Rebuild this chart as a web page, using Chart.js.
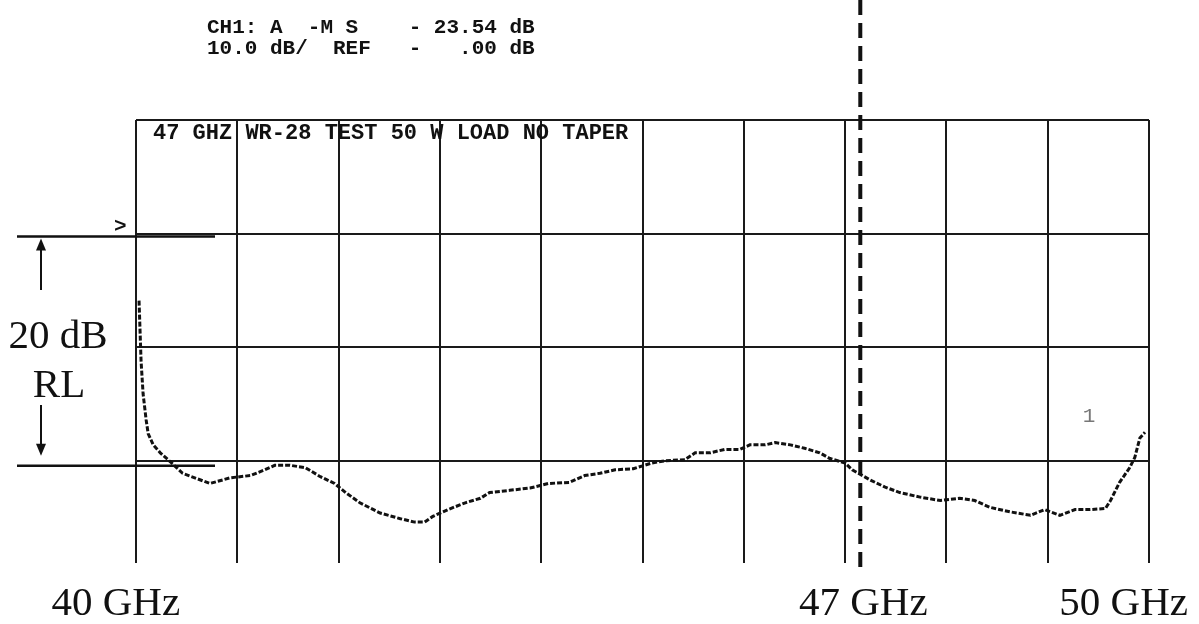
<!DOCTYPE html>
<html>
<head>
<meta charset="utf-8">
<script src="https://cdn.jsdelivr.net/npm/chart.js@4"></script>
<style>
  body { margin: 0; background: #fff; }
</style>
</head>
<body>
<canvas id="myChart" width="1199" height="624"></canvas>
<script>
// trace (frequency in GHz, return loss in dB)
const freqGHz = [40.03, 40.05, 40.07, 40.10, 40.12, 40.17, 40.24, 40.34, 40.46, 40.58, 40.73,
  40.93, 41.13, 41.27, 41.37, 41.52, 41.67, 41.82, 41.96,
  42.07, 42.21, 42.41, 42.61, 42.75, 42.85, 42.93,
  43.08, 43.25, 43.40, 43.49, 43.69, 43.89,
  44.07, 44.28, 44.43, 44.58, 44.73, 44.91,
  45.09, 45.22, 45.42, 45.52, 45.67, 45.81, 45.96,
  46.06, 46.21, 46.31, 46.46, 46.60, 46.75, 46.85,
  47.00, 47.07, 47.13, 47.25, 47.39, 47.54, 47.74, 47.94,
  48.13, 48.28, 48.43, 48.63, 48.83, 48.97,
  49.12, 49.27, 49.42, 49.57, 49.62, 49.71, 49.81, 49.86, 49.91, 49.96];
const rlDb = [-5.9, -11.2, -14.1, -16.4, -17.6, -18.6, -19.3, -20.1, -21.1, -21.5, -22.0,
  -21.5, -21.3, -20.8, -20.4, -20.4, -20.6, -21.4, -22.0,
  -22.8, -23.7, -24.6, -25.1, -25.4, -25.4, -24.9,
  -24.3, -23.7, -23.3, -22.8, -22.6, -22.4,
  -22.0, -21.9, -21.3, -21.1, -20.8, -20.7,
  -20.2, -20.0, -19.9, -19.3, -19.3, -19.0, -19.0,
  -18.6, -18.6, -18.4, -18.6, -18.9, -19.3, -19.8,
  -20.2, -20.8, -21.1, -21.7, -22.3, -22.8, -23.2, -23.5,
  -23.3, -23.5, -24.1, -24.5, -24.8, -24.3,
  -24.8, -24.3, -24.3, -24.2, -23.5, -21.9, -20.6, -19.7, -18.0, -17.5];

// grid / labels
const dbGrid = [-20, -10, 0, 10];
const freqLabels = ['40 GHz', '47 GHz', '50 GHz'];
const freqLabelAt = [39.8, 47.18, 49.75];
const markerGHz = 47.15;
const rlSpan = [0, -20];
const headerLines = ['CH1: A  -M S    - 23.54 dB', '10.0 dB/  REF   -   .00 dB'];
const plotTitle = '47 GHZ WR-28 TEST 50 W LOAD NO TAPER';

function arrowHead(ctx, x, y, dir) {
  ctx.beginPath();
  ctx.moveTo(x, y);
  ctx.lineTo(x - 5, y - dir * 12);
  ctx.lineTo(x + 5, y - dir * 12);
  ctx.closePath();
  ctx.fill();
}

const overlay = {
  id: 'overlay',
  afterDraw(chart) {
    const ctx = chart.ctx;
    const xs = chart.scales.x, ys = chart.scales.y;
    ctx.save();
    ctx.fillStyle = '#111';
    ctx.strokeStyle = '#111';

    // analyzer header + plot title
    ctx.textAlign = 'left';
    ctx.font = 'bold 21px "Liberation Mono"';
    ctx.fillText(headerLines[0], 207, 33);
    ctx.fillText(headerLines[1], 207, 54);
    ctx.font = 'bold 22px "Liberation Mono"';
    ctx.fillText(plotTitle, 153, 139);
    ctx.font = 'bold 21px "Liberation Mono"';
    ctx.fillText('>', 114, 232);

    ctx.fillStyle = '#777';
    ctx.font = '21px "Liberation Mono"';
    ctx.textAlign = 'center';
    ctx.fillText('1', 1089, 422);
    ctx.fillStyle = '#111';

    // 20 dB RL bracket
    const yTop = ys.getPixelForValue(rlSpan[0]) + 3;
    const yBot = ys.getPixelForValue(rlSpan[1]) + 5;
    ctx.lineWidth = 2.5;
    ctx.beginPath();
    ctx.moveTo(17, yTop); ctx.lineTo(215, yTop);
    ctx.moveTo(17, yBot); ctx.lineTo(215, yBot);
    ctx.stroke();
    ctx.lineWidth = 2;
    ctx.beginPath();
    ctx.moveTo(41, yTop + 12); ctx.lineTo(41, 290);
    ctx.moveTo(41, 405); ctx.lineTo(41, yBot - 20);
    ctx.stroke();
    arrowHead(ctx, 41, yTop + 2, -1);
    arrowHead(ctx, 41, yBot - 10, 1);

    ctx.font = '41px "Liberation Serif"';
    ctx.fillText('20 dB', 58, 348);
    ctx.fillText('RL', 59, 397);

    freqLabels.forEach((t, i) => {
      ctx.fillText(t, xs.getPixelForValue(freqLabelAt[i]), 615);
    });

    // marker line
    const mx = xs.getPixelForValue(markerGHz);
    ctx.lineWidth = 4;
    ctx.setLineDash([15, 8]);
    ctx.beginPath();
    ctx.moveTo(mx, 0);
    ctx.lineTo(mx, 573);
    ctx.stroke();
    ctx.restore();
  }
};

const gridStyle = { color: '#1a1a1a', lineWidth: 2, drawTicks: false };

const data = {
  datasets: [{
    label: 'S11',
    data: freqGHz.map((f, i) => ({ x: f, y: rlDb[i] })),
    borderColor: '#111',
    borderWidth: 3,
    borderDash: [5, 2],
    pointRadius: 0,
    tension: 0
  }]
};

const config = {
  type: 'line',
  data,
  options: {
    responsive: false,
    animation: false,
    devicePixelRatio: 1,
    layout: { padding: { left: 136, right: 50, top: 120, bottom: 61 } },
    plugins: { legend: { display: false }, tooltip: { enabled: false } },
    scales: {
      x: {
        type: 'linear',
        min: 40,
        max: 50,
        ticks: { display: false, stepSize: 1 },
        grid: gridStyle,
        border: { display: false }
      },
      y: {
        min: -29,
        max: 10,
        afterBuildTicks: s => { s.ticks = dbGrid.map(v => ({ value: v })); },
        ticks: { display: false },
        grid: gridStyle,
        border: { display: false }
      }
    }
  },
  plugins: [overlay]
};

const myChart = new Chart(document.getElementById('myChart'), config);
</script>
</body>
</html>
